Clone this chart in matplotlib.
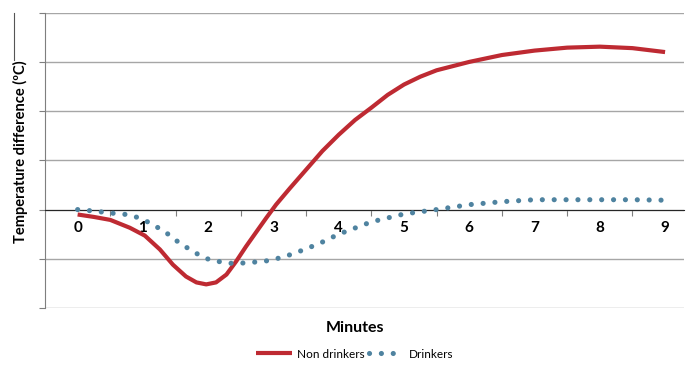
import matplotlib.pyplot as plt
from matplotlib.lines import Line2D

# values (minutes vs temperature difference, grid units)
minutes = list(range(10))
non_x = [0, 0.25, 0.5, 0.8, 1.03, 1.26, 1.46, 1.66, 1.82, 1.97, 2.12, 2.28, 2.43, 2.58, 2.74,
         2.89, 3.04, 3.25, 3.5, 3.75, 4, 4.25, 4.5, 4.75, 5, 5.25, 5.5, 6, 6.5, 7, 7.5, 8, 8.5, 9]
non_y = [-0.1, -0.15, -0.21, -0.37, -0.53, -0.81, -1.12, -1.36, -1.48, -1.52, -1.48, -1.32, -1.05,
         -0.75, -0.45, -0.17, 0.1, 0.43, 0.81, 1.19, 1.52, 1.82, 2.07, 2.33, 2.54, 2.7, 2.83,
         3.0, 3.14, 3.23, 3.29, 3.31, 3.28, 3.2]
drk_x = [0, 0.25, 0.5, 0.75, 0.92, 1.09, 1.26, 1.41, 1.56, 1.72, 1.87, 2.04, 2.23, 2.4, 2.59,
         2.78, 2.97, 3.25, 3.5, 3.75, 4, 4.5, 5, 5.5, 6, 6.5, 7, 7.5, 8, 8.5, 9]
drk_y = [0, -0.03, -0.07, -0.1, -0.16, -0.26, -0.39, -0.52, -0.68, -0.81, -0.93, -1.03, -1.07,
         -1.1, -1.08, -1.06, -1.03, -0.92, -0.8, -0.66, -0.5, -0.25, -0.09, 0.0, 0.1, 0.16,
         0.2, 0.2, 0.2, 0.2, 0.19]

RED = "#be2a32"
BLUE = "#4f83a0"

fig = plt.figure(figsize=(6.88, 3.65), dpi=100)
ax = fig.add_axes([45/688, 57/365, 639/688, 295.3/365])

ax.plot(non_x, non_y, color=RED, lw=3.0, solid_capstyle="butt", solid_joinstyle="round",
        label="Non drinkers", zorder=3)
ax.plot(drk_x, drk_y, color=BLUE, lw=3.7, linestyle=(0, (0.01, 2.3)),
        dash_capstyle="round", label="Drinkers", zorder=4)

ax.set_xlim(-0.5, 9.29)
ax.set_ylim(-2, 4)
ax.set_yticks(range(-2, 5))
ax.set_yticklabels([])
ax.yaxis.grid(True, color="#a6a6a6", lw=1.0)
ax.set_axisbelow(True)
ax.tick_params(axis="y", direction="out", length=4, color="#7f7f7f")

for s in ("top", "right"):
    ax.spines[s].set_visible(False)
ax.spines["left"].set_color("#7f7f7f")
ax.spines["bottom"].set_position(("data", 0))
ax.spines["bottom"].set_color("#262626")

ax.set_xticks([m + 0.5 for m in minutes[:-1]])
ax.set_xticklabels([])
ax.set_xticks(minutes, minor=True)
ax.set_xticklabels([str(m) for m in minutes], minor=True, fontweight="bold",
                   fontsize=11, family="Lato")
ax.tick_params(axis="x", which="major", direction="out", length=4, color="#7f7f7f")
ax.tick_params(axis="x", which="minor", length=0, pad=8)

fig.text(20/688, 1 - 152/365, "Temperature difference (ºC)", rotation=90,
         ha="center", va="center", fontsize=10.5, fontweight="bold", family="Lato")
fig.add_artist(Line2D([13.5/688, 13.5/688], [1 - 13/365, 1 - 60/365], color="#555555", lw=0.8))
fig.text(355/688, 1 - 328/365, "Minutes", ha="center", va="center",
         fontsize=11.5, fontweight="bold", family="Lato")

fig.legend(loc="center", bbox_to_anchor=(355/688, 1 - 354/365), ncol=2, frameon=False,
           prop={"family": "Lato", "size": 8.5}, handlelength=3.0, columnspacing=0.4,
           handletextpad=0.4)

fig.savefig("out.png", dpi=100)
